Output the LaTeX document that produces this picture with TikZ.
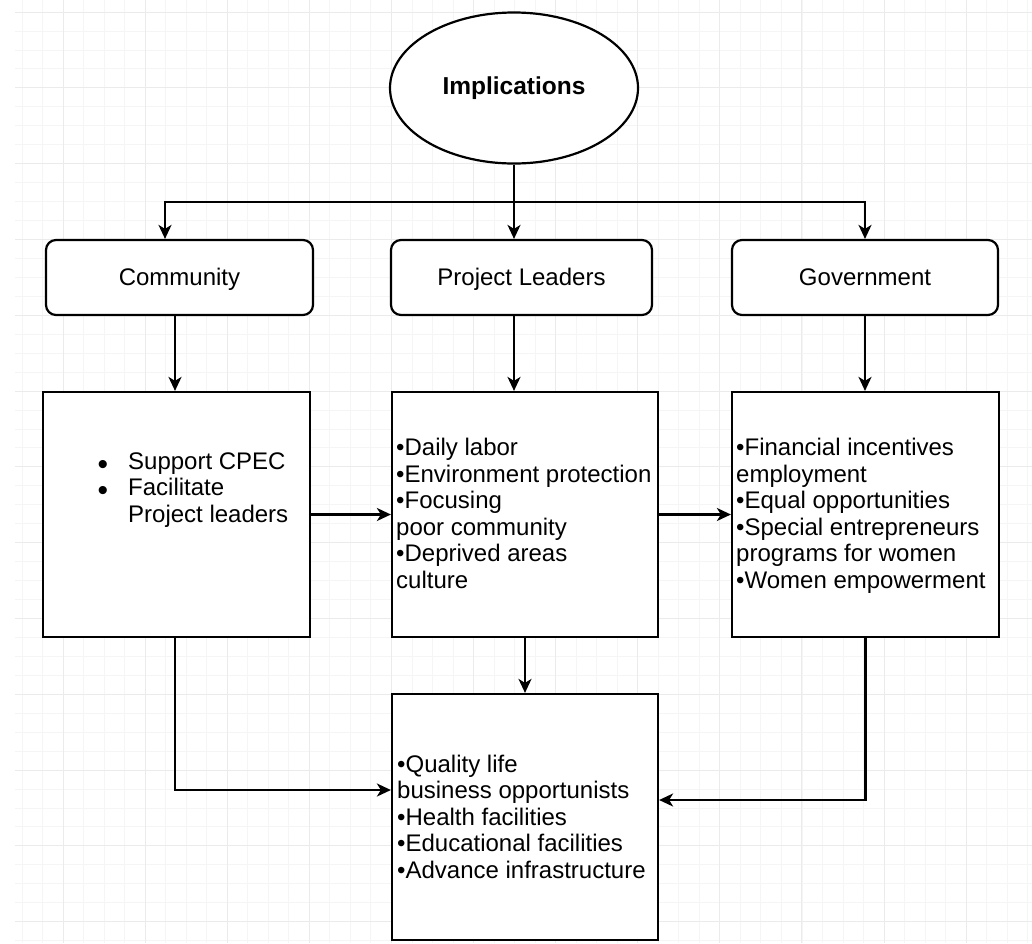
\documentclass[tikz,border=0pt]{standalone}
\usepackage{fontspec}
\setmainfont{Liberation Sans}
\usetikzlibrary{shapes.geometric,arrows.meta,calc}

% large list marker placed to the left of an item
\newcommand{\listdot}{\llap{\smash{\raisebox{-5pt}{\fontsize{30}{30}\selectfont •}}\hspace{20pt}}}

\begin{document}
\begin{tikzpicture}[x=1pt,y=-1pt,
  every node/.style={font=\fontsize{24}{26.5}\selectfont},
  line/.style={draw=black,line width=2.2pt},
  arr/.style={line,-{Stealth[length=14pt,width=13pt,inset=4pt]}},
  headbox/.style={line,rounded corners=10pt,fill=white,inner sep=0pt,minimum height=75pt,
                  text height=17.5pt,text depth=2pt},
  panel/.style={line,fill=white,inner sep=0pt,minimum height=245pt},
  txt/.style={align=left,inner sep=0pt,anchor=base west},
  gridminor/.style={draw=black!4,line width=0.8pt},
  gridmajor/.style={draw=black!8,line width=1pt}]

\useasboundingbox[fill=white] (0,0) rectangle (1032,943);

% background grid
\begin{scope}
  \clip (15,0) rectangle (1032,943);
  \foreach \i in {-3,...,47} \draw[gridminor] ({63+20.525*\i},0) -- ++(0,943);
  \foreach \i in {-1,...,49} \draw[gridminor] (0,{12+18.95*\i}) -- ++(1032,0);
  \foreach \i in {-1,...,12} \draw[gridmajor] ({63+82.1*\i},0) -- ++(0,943);
  \foreach \i in {0,...,12} \draw[gridmajor] (0,{12+75.8*\i}) -- ++(1032,0);
\end{scope}

% root
\node[ellipse,line,fill=white,minimum width=248pt,minimum height=151pt,inner sep=0pt,
      font=\bfseries\fontsize{24.5}{28}\selectfont] (impl) at (514,88) {Implications};

% stakeholder headers
\node[headbox,minimum width=267pt] (commhead) at (179.5,277.5) {Community};
\node[headbox,minimum width=261pt] (projhead) at (521.5,277.5) {Project Leaders};
\node[headbox,minimum width=266pt] (govhead)  at (865,277.5)   {Government};

% content panels
\node[panel,minimum width=267pt] (commpanel) at (176.5,514.5) {};
\node[panel,minimum width=266pt] (midpanel)  at (525,514.5)   {};
\node[panel,minimum width=267pt] (govpanel)  at (865.5,514.5) {};
\node[panel,minimum width=266pt,minimum height=246pt] (botpanel) at (525,817) {};

% panel texts (anchored at the baseline of the last line)
\node[txt] (commtext) at (128,522) {\listdot Support CPEC\\\listdot Facilitate\\Project leaders};
\node[txt] (midtext) at (396,588) {•Daily labor\\•Environment protection\\•Focusing\\poor community\\•Deprived areas\\culture};
\node[txt] (govtext) at (736,588) {•Financial incentives\\employment\\•Equal opportunities\\•Special entrepreneurs\\programs for women\\•Women empowerment};
\node[txt] (bottext) at (397,878) {•Quality life\\business opportunists\\•Health facilities\\•Educational facilities\\•Advance infrastructure};

% connectors from the root
\coordinate (split) at (514,202);
\draw[arr] (impl.south) -- (impl.south |- projhead.north);
\draw[arr] (split) -| ([xshift=-14.5pt]commhead.north);
\draw[arr] (split) -| (govhead.north);

% headers to panels
\draw[arr] ([xshift=-4.5pt]commhead.south) -- ([xshift=-4.5pt]commhead.south |- commpanel.north);
\draw[arr] (impl.south |- projhead.south) -- (impl.south |- midpanel.north);
\draw[arr] (govhead.south) -- (govhead.south |- govpanel.north);

% panel to panel
\draw[arr] (commpanel.east) -- (midpanel.west);
\draw[arr] (midpanel.east) -- (govpanel.west);
\draw[arr] (midpanel.south) -- (botpanel.north);
\draw[arr] ([xshift=-1.5pt]commpanel.south) |- ([yshift=27pt]botpanel.west);
\draw[arr] (govpanel.south) |- ([yshift=17pt]botpanel.east);
\end{tikzpicture}
\end{document}
